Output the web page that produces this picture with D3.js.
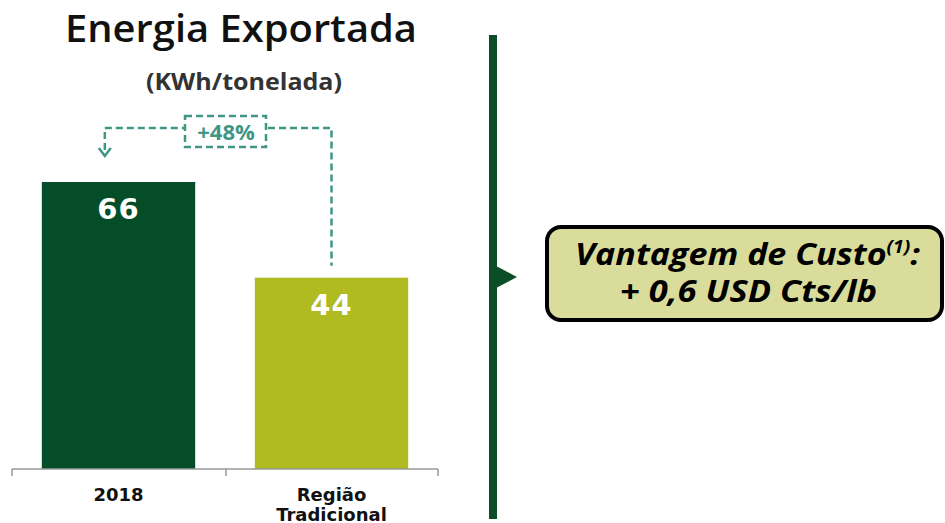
<!DOCTYPE html>
<meta charset="utf-8">
<script src="https://d3js.org/d3.v7.min.js"></script>
<style>
  body { margin: 0; background: #fff; }
</style>
<body>
<div id="chart"></div>
<script>
  // data
  var categories = ["2018", "Região Tradicional"];
  var values = [66, 44];
  var barColors = ["#054d28", "#b0bb22"];
  var deltaLabel = "+48%";
  var boxLines = ["Vantagem de Custo", "+ 0,6 USD Cts/lb"];

  var W = 945, H = 523;
  var svg = d3.select("#chart").append("svg")
    .attr("width", W).attr("height", H);

  // scales
  var x = d3.scaleBand().domain(categories).range([12, 438]).paddingInner(0.28).paddingOuter(0.14);
  var y = d3.scaleLinear().domain([0, 66]).range([469, 182]);

  // title
  svg.append("text").attr("x", 241).attr("y", 42).attr("text-anchor", "middle")
    .style("font-family", "'Open Sans'").style("font-weight", 600).style("font-size", "37px")
    .attr("textLength", 352).attr("lengthAdjust", "spacingAndGlyphs")
    .attr("fill", "#111").text("Energia Exportada");
  svg.append("text").attr("x", 244).attr("y", 90).attr("text-anchor", "middle")
    .style("font-family", "'Open Sans'").style("font-weight", 700).style("font-size", "23px")
    .attr("textLength", 196).attr("lengthAdjust", "spacingAndGlyphs")
    .attr("fill", "#333").text("(KWh/tonelada)");

  // bars
  svg.selectAll(".bar").data(values).enter().append("rect")
    .attr("x", function (d, i) { return x(categories[i]); })
    .attr("y", function (d) { return y(d); })
    .attr("width", x.bandwidth())
    .attr("height", function (d) { return y(0) - y(d); })
    .attr("fill", function (d, i) { return barColors[i]; });

  svg.selectAll(".val").data(values).enter().append("text")
    .attr("x", function (d, i) { return x(categories[i]) + x.bandwidth() / 2; })
    .attr("y", function (d) { return y(d) + 37; })
    .attr("text-anchor", "middle")
    .style("font-family", "Verdana, 'DejaVu Sans'").style("font-weight", 700).style("font-size", "29px")
    .attr("letter-spacing", "1px")
    .attr("fill", "#fff").text(function (d) { return d; });

  // axis
  var axis = svg.append("g").attr("transform", "translate(0," + y(0) + ")");
  axis.append("line").attr("x1", 12).attr("x2", 438).attr("stroke", "#999").attr("stroke-width", 1.5);
  [12, 226, 438].forEach(function (t) {
    axis.append("line").attr("x1", t).attr("x2", t).attr("y1", 0).attr("y2", 7)
      .attr("stroke", "#999").attr("stroke-width", 1.5);
  });
  categories.forEach(function (c) {
    var words = c.split(" ");
    var t = svg.append("text").attr("text-anchor", "middle")
      .style("font-family", "Verdana, 'DejaVu Sans'").style("font-weight", 700).style("font-size", "18px")
      .attr("fill", "#111");
    words.forEach(function (w, j) {
      t.append("tspan").attr("x", x(c) + x.bandwidth() / 2).attr("y", 501 + j * 20).text(w);
    });
  });

  // delta annotation
  var teal = "#3f9685";
  var x1 = x(categories[0]) + 63, x2 = x(categories[1]) + x.bandwidth() / 2;
  var yTop = 128;
  var dash = "7,4";
  var ann = svg.append("g").attr("stroke", teal).attr("stroke-width", 2.5).attr("fill", "none")
    .attr("stroke-dasharray", dash);
  ann.append("path").attr("d", "M" + x1 + "," + 150 + "V" + yTop + "H185");
  ann.append("path").attr("d", "M268," + yTop + "H" + x2 + "V" + (y(values[1]) - 12));
  ann.append("rect").attr("x", 185).attr("y", 116).attr("width", 81).attr("height", 31);
  svg.append("path").attr("d", "M" + (x1 - 6) + ",148L" + x1 + ",156L" + (x1 + 6) + ",148")
    .attr("stroke", teal).attr("stroke-width", 2.5).attr("fill", "none");
  svg.append("text").attr("x", 226).attr("y", 140).attr("text-anchor", "middle")
    .style("font-family", "'Open Sans'").style("font-weight", 700).style("font-size", "22px")
    .attr("fill", teal).text(deltaLabel);

  // divider with arrow
  svg.append("rect").attr("x", 489).attr("y", 35).attr("width", 8).attr("height", 484).attr("fill", "#0a4d26");
  svg.append("path").attr("d", "M496,266L517,277L496,288Z").attr("fill", "#0a4d26");

  // callout box
  svg.append("rect").attr("x", 547).attr("y", 227).attr("width", 395).attr("height", 93)
    .attr("rx", 14).attr("fill", "#d9dc9a").attr("stroke", "#000").attr("stroke-width", 4);
  var font = function (s) {
    return s.style("font-family", "'Open Sans'").style("font-weight", 700)
      .style("font-style", "italic").attr("fill", "#000").style("font-size", "30px");
  };
  var bt = font(svg.append("text").attr("x", 575).attr("y", 265))
    .attr("textLength", 345).attr("lengthAdjust", "spacingAndGlyphs");
  bt.append("tspan").text(boxLines[0]);
  bt.append("tspan").style("font-size", "17px").attr("dy", -12).text("(1)");
  bt.append("tspan").attr("dy", 12).text(":");
  font(svg.append("text").attr("x", 620).attr("y", 302))
    .attr("textLength", 257).attr("lengthAdjust", "spacingAndGlyphs")
    .text(boxLines[1]);
</script>
</body>
